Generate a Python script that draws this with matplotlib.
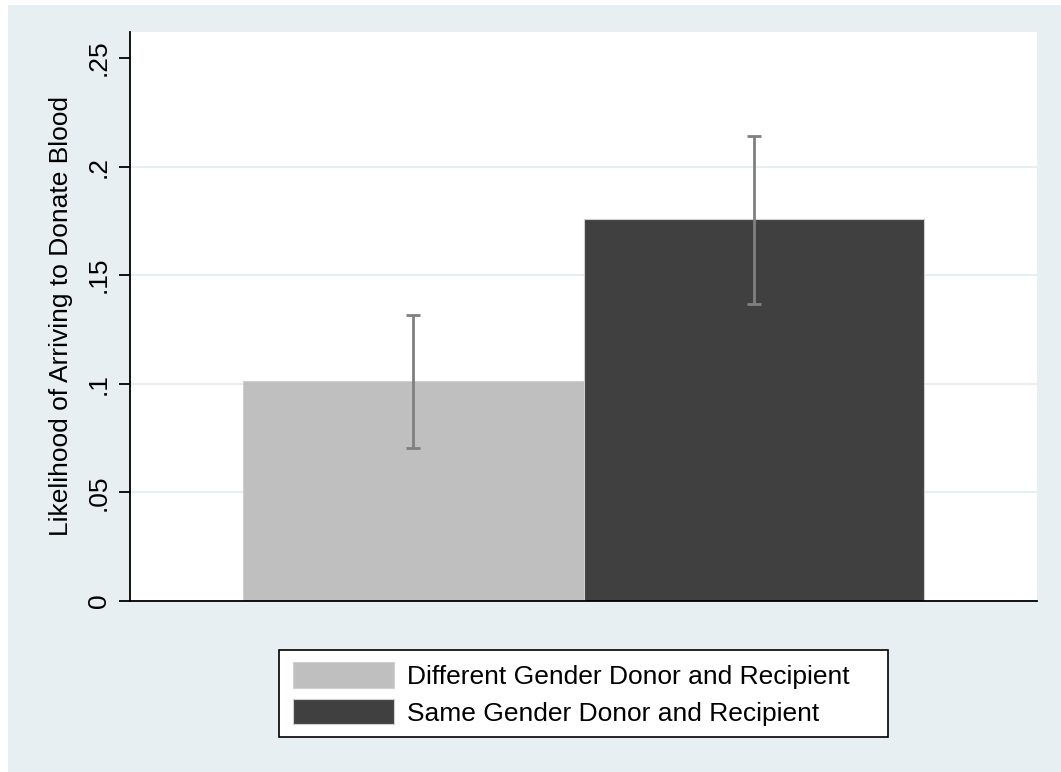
import numpy as np
import matplotlib
matplotlib.use('Agg')
import matplotlib.pyplot as plt
from matplotlib.patches import Rectangle

# values
groups = ['Different Gender Donor and Recipient', 'Same Gender Donor and Recipient']
means = [0.1013, 0.1759]
ci_low = [0.0704, 0.1367]
ci_high = [0.1317, 0.2142]
bar_colors = ['#bfbfbf', '#404040']
yticks = [0, 0.05, 0.1, 0.15, 0.2, 0.25]
ytick_labels = ['0', '.05', '.1', '.15', '.2', '.25']

plt.rcParams['font.family'] = ['Liberation Sans', 'DejaVu Sans']

W, H = 1061, 772
fig = plt.figure(figsize=(W / 100, H / 100), dpi=100, facecolor='white')
# stata style outer region
fig.patches.append(Rectangle((8 / W, 0), 1 - 8 / W, 1 - 5 / H,
                             transform=fig.transFigure, facecolor='#e8eff2',
                             edgecolor='none', zorder=-10))

ax = fig.add_axes([130 / W, 1 - 601 / H, (1037 - 130) / W, (601 - 32) / H])
ax.set_facecolor('white')

x = np.arange(len(groups))
for i in range(len(groups)):
    ax.bar(x[i], means[i], width=1.0, color=bar_colors[i], edgecolor='#d0d0d0',
           linewidth=0.8, label=groups[i], zorder=2)

err = [np.array(means) - np.array(ci_low), np.array(ci_high) - np.array(means)]
ax.errorbar(x, means, yerr=err, fmt='none', ecolor='#808080', elinewidth=2,
            capsize=5, capthick=2, zorder=3)

ax.set_xlim(-0.83, 1.83)
ax.set_ylim(0, 0.262)
ax.set_yticks(yticks)
ax.set_yticklabels(ytick_labels, rotation=90, va='center', fontsize=19)
ax.set_xticks([])
for yv in yticks[1:-1]:
    ax.axhline(yv, color='#e8eff2', linewidth=1.5, zorder=1)

ax.tick_params(axis='y', length=8, width=1.3, pad=6)
for s in ['top', 'right']:
    ax.spines[s].set_visible(False)
ax.spines['left'].set_linewidth(1.3)
ax.spines['bottom'].set_linewidth(1.3)

ax.set_ylabel('Likelihood of Arriving to Donate Blood', fontsize=19, labelpad=10)

# legend box drawn separately so its padding matches the stata one
fig.patches.append(Rectangle((279 / W, 1 - 737 / H), (888 - 279) / W, (737 - 650) / H,
                             transform=fig.transFigure, facecolor='white',
                             edgecolor='black', linewidth=1.2, zorder=1))
leg = fig.legend(loc='center', bbox_to_anchor=(571.5 / W, 1 - 694 / H),
                 fontsize=19, frameon=False,
                 handlelength=3.83, handleheight=1.1, handletextpad=0.5,
                 labelspacing=0.38, borderpad=0)
leg.set_zorder(5)

fig.savefig('out.png', dpi=100, facecolor=fig.get_facecolor())
